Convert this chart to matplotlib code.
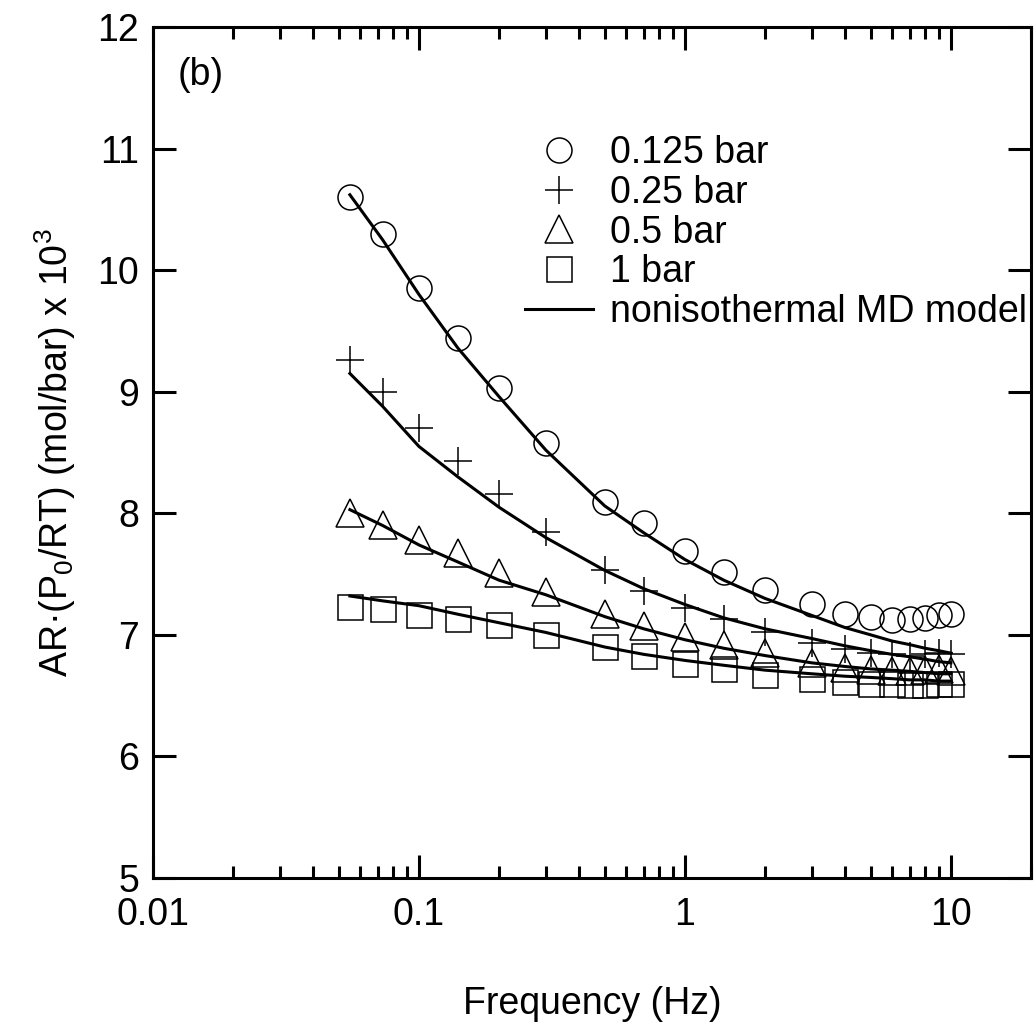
import matplotlib
matplotlib.use("Agg")
import matplotlib.pyplot as plt
import numpy as np
from matplotlib.ticker import LogLocator, NullFormatter, FixedLocator

plt.rcParams["font.family"] = ["Liberation Sans", "DejaVu Sans"]
plt.rcParams["mathtext.fontset"] = "custom"
plt.rcParams["mathtext.rm"] = "Liberation Sans"
plt.rcParams["mathtext.it"] = "Liberation Sans:italic"

INK = "black"
FS = 27

# measured frequencies (Hz)
freq = [0.055, 0.073, 0.1, 0.14, 0.2, 0.3, 0.5, 0.7, 1, 1.4, 2, 3, 4, 5, 6, 7, 8, 9, 10]

# data points, AR*(P0/RT) x 1e3
p0125 = [10.6, 10.3, 9.85, 9.44, 9.03, 8.58, 8.09, 7.92, 7.69, 7.52, 7.37, 7.25, 7.17, 7.15, 7.12, 7.13, 7.14, 7.16, 7.17]
p025 = [9.26, 9.0, 8.70, 8.43, 8.16, 7.85, 7.53, 7.36, 7.22, 7.13, 7.02, 6.93, 6.88, 6.85, 6.84, 6.83, 6.84, 6.85, 6.84]
p05 = [8.0, 7.90, 7.78, 7.67, 7.51, 7.35, 7.17, 7.07, 6.98, 6.92, 6.85, 6.77, 6.73, 6.71, 6.70, 6.70, 6.71, 6.72, 6.70]
p1 = [7.23, 7.21, 7.16, 7.13, 7.08, 7.0, 6.90, 6.83, 6.76, 6.72, 6.67, 6.64, 6.61, 6.60, 6.60, 6.59, 6.59, 6.60, 6.60]

# nonisothermal MD model curves
m0125 = [10.62, 10.25, 9.80, 9.36, 8.96, 8.52, 8.06, 7.84, 7.62, 7.45, 7.30, 7.16, 7.06, 7.00, 6.95, 6.92, 6.89, 6.87, 6.85]
m025 = [9.15, 8.88, 8.55, 8.30, 8.05, 7.80, 7.53, 7.38, 7.25, 7.14, 7.05, 6.97, 6.91, 6.87, 6.84, 6.82, 6.80, 6.78, 6.77]
m05 = [8.03, 7.90, 7.74, 7.60, 7.45, 7.33, 7.15, 7.05, 6.96, 6.89, 6.83, 6.77, 6.74, 6.72, 6.71, 6.70, 6.69, 6.68, 6.68]
m1 = [7.32, 7.28, 7.24, 7.17, 7.10, 7.02, 6.90, 6.84, 6.79, 6.75, 6.71, 6.68, 6.66, 6.65, 6.64, 6.63, 6.63, 6.62, 6.62]

fig = plt.figure(figsize=(10.35, 10.26), dpi=100)
ax = fig.add_axes([0.1478, 0.1442, 0.8483, 0.8295])

mk = dict(linestyle="none", markerfacecolor="none", markeredgecolor=INK,
          markeredgewidth=1.1, zorder=3)
ax.plot(freq, p0125, marker="o", markersize=18, label="0.125 bar", **mk)
ax.plot(freq, p025, marker="+", markersize=19.5, label="0.25 bar", **mk)
ax.plot(freq, p05, marker="^", markersize=20, label="0.5 bar", **mk)
ax.plot(freq, p1, marker="s", markersize=18, label="1 bar", **mk)

for i, m in enumerate((m0125, m025, m05, m1)):
    ax.plot(freq, m, color=INK, lw=2.2, zorder=2,
            label="nonisothermal MD model" if i == 0 else None)

ax.set_xscale("log")
ax.set_xlim(0.01, 20)
ax.set_ylim(5, 12)
ax.xaxis.set_major_locator(FixedLocator([0.01, 0.1, 1, 10]))
ax.set_xticklabels(["0.01", "0.1", "1", "10"])
ax.xaxis.set_minor_locator(LogLocator(base=10, subs=np.arange(2, 10)))
ax.xaxis.set_minor_formatter(NullFormatter())
ax.set_yticks(range(5, 13))

for sp in ax.spines.values():
    sp.set_linewidth(2.2)
ax.tick_params(which="major", direction="in", length=16.5, width=2.2,
               top=True, right=True, labelsize=FS, pad=10, color=INK)
ax.tick_params(which="major", axis="x", pad=14)
ax.tick_params(which="minor", direction="in", length=8.6, width=2.2,
               top=True, right=True)

ax.set_xlabel("Frequency (Hz)", fontsize=FS, labelpad=38)
ax.set_ylabel("AR·(P$_\\mathrm{0}$/RT) (mol/bar) x 10$^\\mathrm{3}$",
              fontsize=FS, labelpad=14)

ax.text(0.028, 0.944, "(b)", transform=ax.transAxes, fontsize=FS,
        va="center", ha="left")

leg = ax.legend(loc="upper right", bbox_to_anchor=(0.995, 0.873), fontsize=FS,
                frameon=False, handlelength=1.8, handletextpad=0.45,
                labelspacing=0.1, borderaxespad=0.0, borderpad=0.0)

fig.savefig("out.png", dpi=100)
